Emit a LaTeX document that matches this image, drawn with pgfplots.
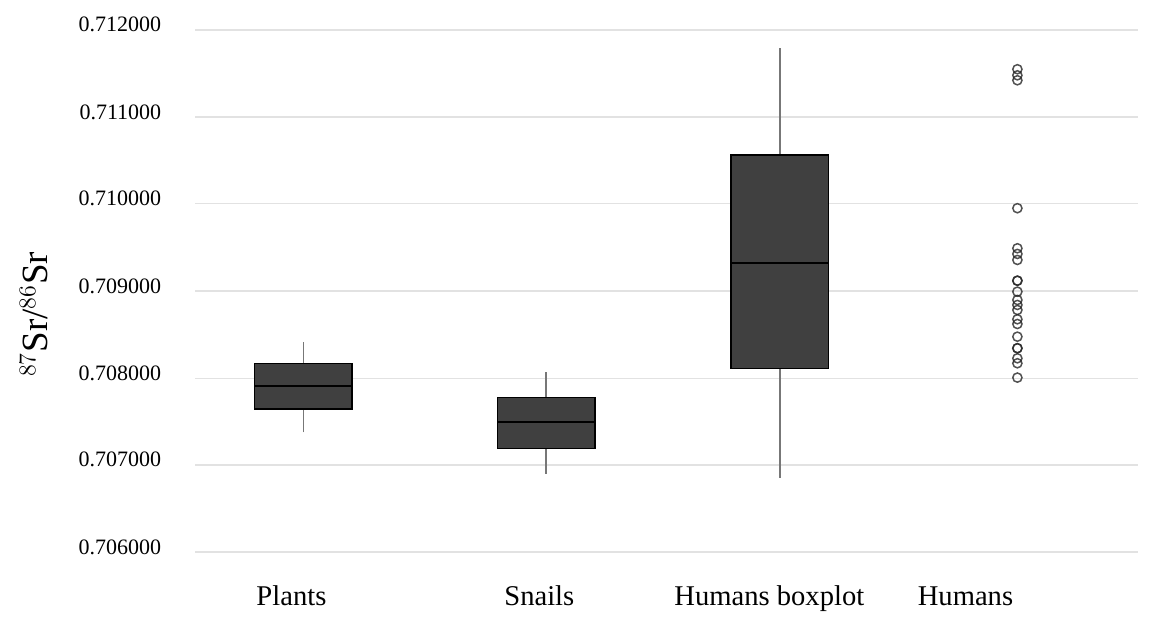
\documentclass[border=0pt]{standalone}
\usepackage{pgfplots}
\pgfplotsset{compat=1.18}
\usepackage{fontspec}
\setmainfont{Liberation Serif}
\definecolor{boxgray}{HTML}{404040}
\definecolor{gridgray}{HTML}{E2E2E2}
\definecolor{whiskgray}{HTML}{777777}
\begin{document}
\begin{tikzpicture}
\begin{axis}[
  at={(0,0)}, anchor=south west,
  scale only axis,
  width=471.5pt, height=261.25pt,
  y coord trafo/.code={\pgfmathparse{(#1-0.706)*1000}},
  y coord inv trafo/.code={\pgfmathparse{#1/1000+0.706}},
  xmin=-0.4538, xmax=3.508,
  ymin=0.706, ymax=0.712,
  axis line style={draw=none},
  major tick length=0pt,
  ytick={0.706,0.707,0.708,0.709,0.710,0.711,0.712},
  yticklabels={0.706000,0.707000,0.708000,0.709000,0.710000,0.711000,0.712000},
  yticklabel style={font=\fontsize{11}{13}\selectfont, xshift=-13.5pt, yshift=2.5pt},
  xtick={-0.05,0.9916,1.958,2.782},
  xticklabels={Plants,Snails,Humans boxplot,Humans},
  xticklabel style={font=\fontsize{14.3}{16}\selectfont, anchor=base, yshift=-26.5pt},
  ymajorgrids,
  grid style={draw=gridgray, line width=0.9pt},
  ylabel={\fontsize{18.5}{20}\selectfont $^{87}$Sr/$^{86}$Sr},
  ylabel style={at={(axis description cs:-0.171,0.4555)}, anchor=center},
  clip=false,
]
% Plants: whiskers, box (Q1-Q3), median
\addplot[whiskgray, line width=0.7pt] coordinates {(0,0.707381) (0,0.707646)};
\addplot[whiskgray, line width=0.7pt] coordinates {(0,0.708175) (0,0.708424)};
\addplot[draw=black, fill=boxgray, line width=0.75pt] coordinates {(-0.205,0.707646) (0.205,0.707646) (0.205,0.708175) (-0.205,0.708175)} -- cycle;
\addplot[black, line width=1pt] coordinates {(-0.205,0.707910) (0.205,0.707910)};
% Snails
\addplot[whiskgray, line width=0.7pt] coordinates {(1.0198,0.706901) (1.0198,0.707197)};
\addplot[whiskgray, line width=0.7pt] coordinates {(1.0198,0.707779) (1.0198,0.708071)};
\addplot[draw=black, fill=boxgray, line width=0.75pt] coordinates {(0.8148,0.707197) (1.2248,0.707197) (1.2248,0.707779) (0.8148,0.707779)} -- cycle;
\addplot[black, line width=1pt] coordinates {(0.8148,0.707496) (1.2248,0.707496)};
% Humans boxplot
\addplot[whiskgray, line width=0.7pt] coordinates {(2.0021,0.706858) (2.0021,0.708117)};
\addplot[whiskgray, line width=0.7pt] coordinates {(2.0021,0.710572) (2.0021,0.711800)};
\addplot[draw=black, fill=boxgray, line width=0.75pt] coordinates {(1.7971,0.708117) (2.2071,0.708117) (2.2071,0.710572) (1.7971,0.710572)} -- cycle;
\addplot[black, line width=1pt] coordinates {(1.7971,0.709333) (2.2071,0.709333)};
% Humans: individual values
\addplot[only marks, mark=o, mark size=2.3pt, mark options={draw=black!85, line width=0.75pt, draw opacity=0.8}] coordinates {
(3,0.711558) (3,0.711488) (3,0.711431)
(3,0.709959)
(3,0.709498) (3,0.709433) (3,0.709364)
(3,0.709125) (3,0.709125)
(3,0.708999)
(3,0.708903) (3,0.708846) (3,0.708788)
(3,0.708681) (3,0.708627)
(3,0.708481)
(3,0.708348) (3,0.708348)
(3,0.708232) (3,0.708175)
(3,0.708010)
};
\end{axis}
\pgfresetboundingbox
\path (-97.65pt,-33.35pt) rectangle (482.35pt,276.15pt);
\end{tikzpicture}
\end{document}
